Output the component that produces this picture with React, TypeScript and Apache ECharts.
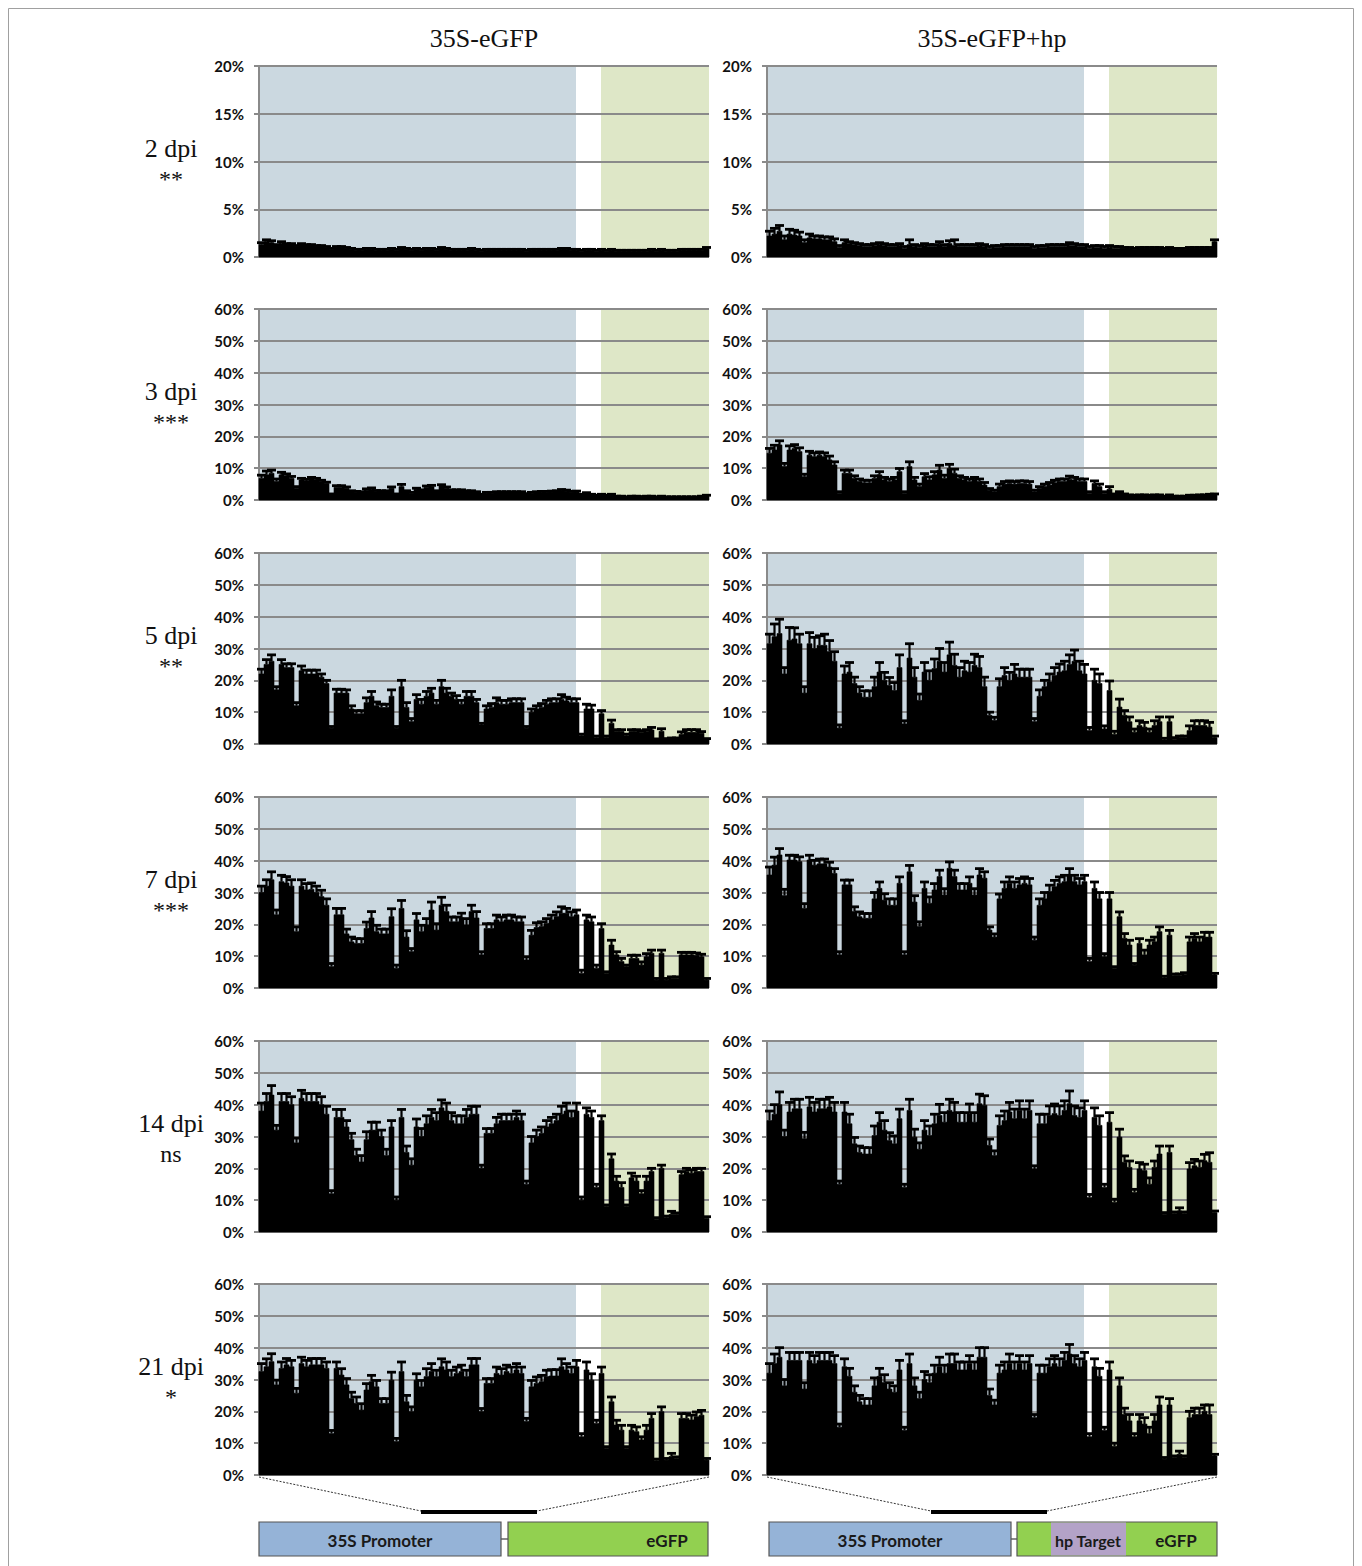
import React, { useEffect, useRef } from "react";
import * as echarts from "echarts";

// ---------- DATA ----------
const N = 90; // positions (bars) per panel
const BLUE_END = 63.4; // 35S promoter region ends (in bar units)
const GREEN_START = 68.4; // eGFP region starts (in bar units)

const COLUMN_TITLES = ["35S-eGFP", "35S-eGFP+hp"];
const ROW_LABELS = ["2 dpi", "3 dpi", "5 dpi", "7 dpi", "14 dpi", "21 dpi"];
const ROW_SIG = ["**", "***", "**", "***", "ns", "*"];
const ROW_MAX = [20, 60, 60, 60, 60, 60];
const ROW_INTERVAL = [5, 10, 10, 10, 10, 10];

const dpi2Gfp = [1.3,1.6,1.5,1.2,1.4,1.3,1.3,1.1,1.3,1.2, 1.2,1.1,1.1,1.0,0.8,1.0,1.0,0.9,0.8,0.7, 0.7,0.8,0.8,0.7,0.7,0.7,0.8,0.7,0.9,0.8, 0.7,0.8,0.7,0.8,0.8,0.7,0.9,0.8,0.7,0.7, 0.7,0.7,0.8,0.7,0.6,0.7,0.7,0.7,0.7,0.7, 0.7,0.7,0.7,0.6,0.7,0.7,0.7,0.7,0.7,0.7, 0.8,0.8,0.7,0.7,0.6,0.7,0.7,0.6,0.7,0.6, 0.7,0.6,0.6,0.6,0.6,0.6,0.6,0.6,0.7,0.6, 0.7,0.6,0.6,0.6,0.7,0.7,0.7,0.7,0.7,0.9];
const dpi2GfpErr = [0.2,0.2,0.2,0.1,0.2,0.1,0.1,0.1,0.1,0.1, 0.1,0.1,0.1,0.1,0.1,0.1,0.1,0.1,0.1,0.1, 0.1,0.1,0.1,0.1,0.1,0.1,0.1,0.1,0.1,0.1, 0.1,0.1,0.1,0.1,0.1,0.1,0.1,0.1,0.1,0.1, 0.1,0.1,0.1,0.1,0.1,0.1,0.1,0.1,0.1,0.1, 0.1,0.1,0.1,0.1,0.1,0.1,0.1,0.1,0.1,0.1, 0.1,0.1,0.1,0.1,0.1,0.1,0.1,0.1,0.1,0.1, 0.1,0.1,0.1,0.1,0.1,0.1,0.1,0.1,0.1,0.1, 0.1,0.1,0.1,0.1,0.1,0.1,0.1,0.1,0.1,0.1];
const dpi2Hp = [2.2,2.4,2.7,1.8,2.4,2.3,2.2,1.5,2.0,1.9, 1.9,1.8,1.8,1.6,1.0,1.5,1.4,1.3,1.2,1.1, 1.1,1.2,1.3,1.2,1.1,1.1,1.2,0.9,1.3,1.1, 1.0,1.2,1.1,1.1,1.3,1.1,1.4,1.2,1.1,1.1, 1.1,1.1,1.2,1.1,0.9,1.0,1.0,1.1,1.1,1.1, 1.1,1.1,1.1,0.9,1.0,1.0,1.1,1.1,1.1,1.1, 1.2,1.2,1.1,1.1,0.9,1.0,1.0,0.9,1.0,0.9, 0.9,0.9,0.9,0.8,0.9,0.9,0.9,0.9,0.9,0.8, 0.9,0.8,0.8,0.8,0.9,0.9,0.9,0.9,0.9,1.6];
const dpi2HpErr = [0.5,0.6,0.6,0.4,0.5,0.5,0.4,0.3,0.4,0.3, 0.3,0.3,0.3,0.3,0.2,0.3,0.2,0.2,0.2,0.2, 0.2,0.2,0.2,0.2,0.2,0.2,0.2,0.2,0.5,0.2, 0.2,0.2,0.2,0.2,0.3,0.2,0.3,0.6,0.2,0.2, 0.2,0.2,0.2,0.2,0.2,0.2,0.2,0.2,0.2,0.2, 0.2,0.2,0.2,0.2,0.2,0.2,0.2,0.2,0.2,0.2, 0.3,0.2,0.2,0.2,0.2,0.2,0.2,0.2,0.2,0.2, 0.2,0.1,0.1,0.1,0.1,0.1,0.1,0.1,0.1,0.1, 0.1,0.1,0.1,0.1,0.1,0.1,0.1,0.1,0.1,0.2];

const dpi3Gfp = [6.8,7.9,8.4,5.8,7.9,7.6,6.8,3.7,6.3,6, 6.6,6.3,5.8,5.2,1.6,4,4,3.7,2.6,2.4, 2.3,3.1,3.4,2.7,2.6,2.6,3.7,1.6,4.2,2.6, 2.1,3.4,2.9,4,4.2,2.6,4.4,3.7,2.9,2.9, 2.9,2.6,2.6,2.3,1.6,2.1,2.1,2.3,2.3,2.3, 2.3,2.3,2.3,1.8,2.1,2.3,2.4,2.4,2.5,2.6, 2.9,2.8,2.4,2.5,1.6,2,1.6,1.3,1.6,1.3, 1.6,1,1,0.8,1,1,0.9,1,1,0.8, 1,0.8,0.8,0.8,0.8,0.8,0.8,0.8,1,1.3];
const dpi3GfpErr = [1,1.2,1,0.8,0.8,0.6,0.6,0.5,0.5,0.5, 0.5,0.5,0.4,0.4,0.3,0.5,0.5,0.4,0.3,0.3, 0.3,0.4,0.4,0.3,0.3,0.3,0.4,0.3,0.7,0.3, 0.3,0.3,0.3,0.4,0.4,0.3,0.4,0.4,0.3,0.3, 0.3,0.3,0.3,0.3,0.2,0.3,0.3,0.3,0.3,0.3, 0.3,0.3,0.3,0.2,0.3,0.3,0.3,0.3,0.3,0.3, 0.4,0.3,0.3,0.3,0.2,0.3,0.2,0.2,0.2,0.2, 0.2,0.2,0.2,0.2,0.2,0.2,0.2,0.2,0.2,0.2, 0.2,0.2,0.2,0.2,0.2,0.2,0.2,0.2,0.2,0.2];
const dpi3Hp = [14.7,15.7,17.3,10.5,15.7,16.2,15.2,7.3,14.1,13.6, 14.1,13.6,12.6,11,2.1,8.4,8.4,6.8,5.8,5.4, 5.4,6.8,7.9,6.3,5.8,6.3,8.9,2.1,10.5,6.3, 4.2,7.3,6.3,7.9,9.4,6.8,9.9,8.4,6.8,6.3, 5.8,6.3,5.8,4.7,3.1,2.6,4.2,5,5.2,5, 5.2,5.2,5,2.6,3.7,4.2,4.7,5.4,5.8,5.8, 6.5,6.3,5.8,5.8,2.1,5.2,4.2,2.1,3.4,1.6, 2.3,1.6,1.4,1.3,1.4,1.4,1.3,1.4,1.4,1, 1.4,1,1,1,1.3,1.3,1.4,1.4,1.6,1.6];
const dpi3HpErr = [1.5,1.5,1.3,1,1.3,1.2,1.2,0.8,1.2,1.2, 1,1.2,1.2,1,0.5,1,1,0.8,0.8,0.8, 0.8,0.8,1,0.8,0.8,0.8,1,0.5,1.5,0.8, 0.8,1,1,1,1.5,1,1.3,1.3,0.8,0.8, 0.8,0.8,0.8,0.8,0.5,0.5,0.8,0.8,0.8,0.8, 0.8,0.8,0.8,0.5,0.5,0.8,0.8,0.8,0.8,0.8, 1,0.8,0.8,0.8,0.5,0.8,0.8,0.5,0.8,0.3, 0.3,0.3,0.2,0.2,0.2,0.2,0.2,0.2,0.2,0.2, 0.2,0.2,0.2,0.2,0.2,0.2,0.2,0.2,0.2,0.3];

const dpi5Gfp = [22,25,26,17,25,24,24,12,23,22, 22,22,21,19,5,16,16,16,11,9.5, 9.5,13,15,12,11.5,11.5,15,5,18,11.5, 7,14,12.5,15,16,12.5,18,16,15,14, 12.5,15,15,13,6,11,11.5,13,12.5,12.5, 13,13,13,5,10,11,11.5,12.5,13,13, 14,13.5,13,13,2.6,11,11,2,9.5,2, 6.5,4,4,2.6,4,4,3.7,4,4.4,1.3, 4,1.4,1.6,1.6,3,3.7,3.7,3.7,3.4,1.4];
const dpi5GfpErr = [1.5,1.5,2,1,1.5,1.2,1.2,1,1.5,1.2, 1.2,1.2,1,1,0.5,1.2,1.2,1,1,1, 1,1.5,1.5,1.2,1,1,2,0.5,2,1.5, 1,1.5,1.5,1.5,1.5,1.2,2,1.5,1,1.2, 1.2,1.5,1.5,1,0.5,1,1.2,1.5,1.2,1.2, 1.2,1.2,1.2,0.5,1,1,1.2,1.2,1.2,1.2, 1.5,1.2,1.2,1.2,0.5,1.5,1.2,0.5,1,0.5, 1,0.5,0.5,0.5,0.5,0.5,0.5,0.5,0.8,0.3, 0.8,0.3,0.3,0.3,0.8,0.8,0.8,0.8,0.5,0.3];
const dpi5Hp = [31.5,33.7,34.7,22,32.6,33,31.5,16,31.5,30, 31,31,29,26,5,22,22.6,19,16,14.7, 14.7,18,22.6,20,18.4,16.8,24,6.3,27,21, 13.7,22.6,20,23.7,26,22.6,28,24.7,21,23, 22.6,24.7,24,18,9,7.4,18,21.5,20,22, 21,21,21,7,15,18,19.5,21.5,22.6,23, 25,26,23,22,4.2,20,19,4.7,16.8,3, 11.6,9,7,3.7,5.8,5.3,3.7,5.8,7,1.3, 7,1.5,2,2,4.2,5.8,5.8,5.8,5.3,2];
const dpi5HpErr = [3,4,4.5,2,4,3.5,3,2,3.5,3.5, 3,3.5,3.5,3,1,2.5,3,2,2,2, 2,3,3,2.5,2.5,2.5,4,1,4.5,3, 2,3,3,3,4,3,4,3.5,3,3, 3,3.5,3.5,3,1,1,2.5,2.5,2.5,3, 2.5,2.5,2.5,1,2,2,2.5,2.5,2.5,3, 3,3.5,3,3,1,3.5,3,1,3,1, 2.5,1.5,1.5,1,1.5,1.5,1,1.5,1.5,0.5, 1.5,0.5,0.5,0.5,1.5,1.5,1.5,1.5,1.5,0.5];

const dpi7Gfp = [30,32,34,23,33.4,33,32,17.7,32,30.8, 31,30,28.7,26,6.7,23,23,17,14.5,14, 14,18.7,22,17.7,17,17,22.4,6.2,25,16, 11.4,21.4,17.7,19.8,24.5,18.2,26,24,20.8,20.8, 22,19.8,24,22,10.4,18.7,18.7,21.4,20.8,21.4, 21.4,20.8,20.8,8.8,16.6,19,19.3,20.3,21.4,22.4, 23.5,23.5,22.4,23,4.6,21.4,20.8,6.2,18.7,4.6, 13.5,10.4,8.3,6.7,9.3,9.3,7.2,9.8,10.9,2.5, 10.9,2.5,3,3,10.4,10.4,10.4,10.2,9.8,2.5];
const dpi7GfpErr = [2,2,2.5,1.5,2,2,2,1.5,2,2, 2,2,2,2,1,2,2,1.5,1.5,1.5, 1.5,2,2,2,1.5,1.5,2.5,1,2.5,2, 1,2,2,2,2.5,2,2.5,2,1.5,1.5, 1.5,2,2,2,1,1.5,1.5,1.5,1.5,1.5, 1.5,1.5,1.5,1,1.5,1.5,1.5,1.5,1.5,1.5, 2,1.5,1.5,1.5,1,1.5,1.5,1,1.5,0.5, 1.5,1,1,0.5,1,1,1,1,1,0.5, 1,0.5,0.5,0.5,0.8,0.8,0.8,0.8,0.8,0.5];
const dpi7Hp = [35.5,38.6,41.8,29,40.2,40.2,39.7,25,40.2,38.6, 39,39,38,36,10.4,32.4,32.4,24,22.4,21.9, 21.9,28,31.3,27.6,26,26,32.9,10.4,36.5,27, 19.3,31.3,26.6,30.8,35,29.2,37.6,35,30.8,30.8, 32.9,29.2,35.5,34.5,18.2,16,28,31.3,32.9,31.3, 32.4,32.9,32.4,15,26,28,30.3,31.8,32.9,33.4, 35.5,33.4,32.4,33.4,8.3,31.3,28,9.8,28,6.2, 22.4,15.6,13.5,7.2,14,10.4,13.5,14.5,17.7,3.2, 16.6,3.9,3.9,4.3,14.5,15.6,14.5,16,16,4.1];
const dpi7HpErr = [2.5,2.5,2,2,1.5,1.5,1.5,1.5,1.5,1.5, 1.5,1.5,1.5,1.5,1,1.5,1.5,1.5,1.5,1.5, 1.5,2,2,2,2,2,2,1,2,2, 1.5,2,2,2,2,2,2,2,2,2, 2,2,2,2,1,1,1.5,2,2,2, 2,2,2,1,2,2,2,2,2,2, 2,2,2,2,1,2,2,1,2,0.5, 1.5,1.5,1.5,0.5,1.5,1.5,1.5,1.5,1.5,0.5, 1.5,0.5,0.5,0.5,1.5,1.5,1.5,1.5,1.5,0.5];

const dpi14Gfp = [38,41,43,32,41,41,40,28,42,41, 41,41,40,37,12,36,36,33,29,24, 22,29,32,32,30,24,33,10,36,25, 21,33,30,34,36,35,39,38,35,34, 34,36,37,37,20,31,31,34,35,35, 35,36,35,15,28,30,31,33,34,35, 37,38,36,38,10,37,36,14,35,8, 23,16,14,8,17,16,12,16,19,4, 20,4.5,5.5,5.5,18,19,18.5,19,19,4.3];
const dpi14GfpErr = [2.5,2.5,3,1.5,2.5,2.5,2.5,1.5,2.5,2.5, 2.5,2.5,2.5,2.5,1,2.5,2.5,2,2,2, 2,2.5,2.5,2.5,2,2,2,1,2.5,2, 2,2.5,2.5,2.5,2.5,2.5,2.5,2.5,2.5,2.5, 2.5,2.5,2.5,2.5,1,1.5,1.5,2,2,2, 2,2,2,1,2,2,2,2,2,2, 2.5,2.5,2,2.5,1,2,2,1,1.5,0.5, 1.5,1.5,1.5,0.5,1.5,1.5,1,1.5,1,0.5, 1,0.5,1,0.5,1,1,1,1,1,0.5];
const dpi14Hp = [35,37,40,30,37.7,38.7,38.7,29.3,39.3,37.7, 38.7,38.7,39.3,37.7,15,37.7,34,27.7,25,24.5, 24.5,30.3,34.5,32,28.7,27.7,35.6,14,38.2,29.8, 26,32,30.3,34,36.6,34.5,38.2,37.7,34.5,34.5, 37.2,34.5,40.3,39.8,27.2,24,33.5,35,37.7,35.6, 38.2,35.6,38.2,19.8,34,34,36.6,37.2,36.6,38.2, 40.3,36.6,36,38.2,10.8,36,33.5,14,34.5,9.3, 29.8,21.9,20.3,12.4,19.8,19.3,15,20.3,24.5,5.6, 25,5.8,6.6,5.8,19.8,20.8,20.3,22.4,21.9,6.1];
const dpi14HpErr = [3,3,4,2,3,3,3,2,3,3, 3,3,3,3,1,3,3,2,2,2, 2,3,3,3,2.5,2.5,3,1,3.5,2.5, 2,3,3,3,3.5,3,3.5,3,3,3, 3,3,3,3,2,1.5,3,3,3,3, 3,3,3,1,3,3,3,3,3,3, 4,3,3,3,1,3,3,1,3,1, 2.5,2,2,1,2,2,2,2,2.5,0.5, 2,0.5,1,0.5,2,2,2,2,3,0.5];

const dpi21Gfp = [32.5,34,35.6,28.3,33.5,34.6,34,25.7,35,34, 34.6,34.6,34.6,33.5,13,33.5,31.4,28.3,24,22.5, 20.4,26.7,29.3,27.7,22.5,22.5,29.8,10.5,32.5,23, 19.9,29.8,27.7,30.9,32.5,30.9,34,33,30.9,31.9, 32.5,30.9,34.6,34.6,19.9,28.8,28.8,31.9,31.4,32.5, 31.9,33,31.9,16.8,27.7,28.8,29.3,30.9,31.1,31.1, 34,33,31.9,34,12,33,29.8,16.2,31.9,8.4, 23,15.7,14.1,8.4,14.1,13.6,11,14.1,17.8,4.5, 19.9,4.7,5.8,5.2,17.8,17.8,17.3,18.3,18.8,4.7];
const dpi21GfpErr = [2.5,2.5,2.5,1.5,2,2,2,1.5,2,2, 2,2,2,2,1,2,2,2,2,2, 2,2,2,2,1.5,1.5,2.5,1,3,2, 1.5,2,2,2.5,2.5,2,2.5,2.5,2,2, 2,2,2,2,1,1.5,1.5,2,2,2, 2,2,2,1,2,2,2,2,2,2, 2.5,2,2,2,1,2.5,2,1,2,0.5, 1.5,1.5,1.5,0.5,1.5,1.5,1,1.5,1.5,0.5, 1.5,0.5,1,0.5,1.5,1.5,1.5,1.5,1.5,0.5];
const dpi21Hp = [32,35,37,28,36,36,36,27,36,35, 36,36,36,35,15,34,31,26,23,22, 22,28,31,29,27,26,33,14,35,28, 24,30,29,32,34,32,35,35,33,33, 35,33,37,37,25,22,32,33,35,33, 35,33,35,18,32,32,34,35,34,36, 38,35,34,36,12,34,31,14,33,9, 28,19,17,12,17,16,13,17,22,5, 22,5.5,6.5,5.5,18,19,19,20,19,6];
const dpi21HpErr = [3,3,3,2,2.5,2.5,2.5,2,2.5,2.5, 2.5,2.5,2.5,2.5,1,2.5,2.5,2,2,2, 2,2.5,2.5,2.5,2,2,3,1,3,2.5, 2,2.5,2.5,2.5,3,2.5,3,3,2.5,2.5, 2.5,2.5,3,3,2,1.5,2.5,2.5,3,2.5, 2.5,2.5,2.5,1,2.5,2.5,2.5,2.5,2.5,2.5, 3,2.5,2.5,2.5,1,2.5,2.5,1,2.5,1, 2.5,2,2,1,2,2,2,2,2.5,0.5, 2,0.5,1,0.5,2,2,2,2,3,0.5];

// rows x columns: [values, errors]
const PANELS = [
  [[dpi2Gfp, dpi2GfpErr], [dpi2Hp, dpi2HpErr]],
  [[dpi3Gfp, dpi3GfpErr], [dpi3Hp, dpi3HpErr]],
  [[dpi5Gfp, dpi5GfpErr], [dpi5Hp, dpi5HpErr]],
  [[dpi7Gfp, dpi7GfpErr], [dpi7Hp, dpi7HpErr]],
  [[dpi14Gfp, dpi14GfpErr], [dpi14Hp, dpi14HpErr]],
  [[dpi21Gfp, dpi21GfpErr], [dpi21Hp, dpi21HpErr]],
];

// ---------- LAYOUT / STYLE ----------
const GRID_LEFT = [251, 759];
const GRID_W = 450;
const GRID_TOP = [58, 301, 545, 789, 1033, 1276];
const GRID_H = 191;
const BLUE_BG = "#cbd8e0";
const GREEN_BG = "#dee7c7";
const GRID_GRAY = "#8a8a8a";
const SERIF = '"Liberation Serif", "DejaVu Serif", serif';
const SANS = 'Lato, "Open Sans", sans-serif';

export default function App() {
  const ref = useRef<HTMLDivElement>(null);

  useEffect(() => {
    if (!ref.current) return;
    const chart = echarts.init(ref.current, undefined, { renderer: "svg" });

    const grids: any[] = [];
    const xAxes: any[] = [];
    const yAxes: any[] = [];
    const series: any[] = [];

    PANELS.forEach((row, r) => {
      row.forEach(([vals, errs], c) => {
        const g = grids.length;
        grids.push({ left: GRID_LEFT[c], top: GRID_TOP[r], width: GRID_W, height: GRID_H, containLabel: false });
        xAxes.push({ gridIndex: g, type: "value", min: 0, max: N, show: false });
        yAxes.push({
          gridIndex: g,
          type: "value",
          min: 0,
          max: ROW_MAX[r],
          interval: ROW_INTERVAL[r],
          z: 1,
          axisLine: { show: true, lineStyle: { color: GRID_GRAY, width: 2 } },
          axisTick: { show: true, length: 5, lineStyle: { color: GRID_GRAY, width: 2 } },
          splitLine: { show: true, lineStyle: { color: GRID_GRAY, width: 2.2 } },
          axisLabel: {
            formatter: "{value}%",
            margin: 15,
            fontSize: 15,
            fontWeight: "bold",
            fontFamily: SANS,
            color: "#111",
          },
        });
        // background regions
        series.push({
          type: "custom",
          xAxisIndex: g,
          yAxisIndex: g,
          z: 0,
          silent: true,
          clip: true,
          data: [
            [0, BLUE_END, ROW_MAX[r], 0],
            [GREEN_START, N, ROW_MAX[r], 1],
          ],
          renderItem: (params: any, api: any) => {
            const a = api.coord([api.value(0), api.value(2)]);
            const b = api.coord([api.value(1), 0]);
            return {
              type: "rect",
              shape: { x: a[0], y: a[1], width: b[0] - a[0], height: b[1] - a[1] },
              style: { fill: api.value(3) === 0 ? BLUE_BG : GREEN_BG },
            };
          },
        });
        // bars with error bars
        series.push({
          type: "custom",
          xAxisIndex: g,
          yAxisIndex: g,
          z: 2,
          silent: true,
          clip: false,
          data: (vals as number[]).map((v, i) => [i, v, (errs as number[])[i]]),
          renderItem: (params: any, api: any) => {
            const i = api.value(0);
            const v = api.value(1);
            const e = api.value(2);
            const p0 = api.coord([i, 0]);
            const p1 = api.coord([i + 1, v]);
            const pe = api.coord([i + 0.5, v + e]);
            const cx = pe[0];
            return {
              type: "group",
              children: [
                {
                  type: "rect",
                  shape: { x: p0[0], y: p1[1], width: p1[0] - p0[0], height: p0[1] - p1[1] },
                  style: { fill: "#000", stroke: "#000", lineWidth: 0.6 },
                },
                {
                  type: "line",
                  shape: { x1: cx, y1: p1[1], x2: cx, y2: pe[1] },
                  style: { stroke: "#000", lineWidth: 2.2 },
                },
                {
                  type: "line",
                  shape: { x1: cx - 4.5, y1: pe[1], x2: cx + 4.5, y2: pe[1] },
                  style: { stroke: "#000", lineWidth: 2.8 },
                },
              ],
            };
          },
        });
      });
    });

    const graphics: any[] = [];
    // frame
    graphics.push({
      type: "rect",
      shape: { x: 0.5, y: 0.5, width: 1345, height: 1640 },
      style: { fill: "none", stroke: "#a0a0a0", lineWidth: 1 },
      silent: true,
    });
    // column titles
    COLUMN_TITLES.forEach((t, c) => {
      graphics.push({
        type: "text",
        x: GRID_LEFT[c] + GRID_W / 2,
        y: 30,
        style: { text: t, fontSize: 26, fontFamily: SERIF, fill: "#111", align: "center", verticalAlign: "middle" },
      });
    });
    // row labels
    ROW_LABELS.forEach((t, r) => {
      graphics.push({
        type: "text",
        x: 163,
        y: GRID_TOP[r] + 82,
        style: { text: t, fontSize: 26, fontFamily: SERIF, fill: "#111", align: "center", verticalAlign: "middle" },
      });
      graphics.push({
        type: "text",
        x: 163,
        y: GRID_TOP[r] + 113,
        style: { text: ROW_SIG[r], fontSize: 24, fontFamily: SERIF, fill: "#111", align: "center", verticalAlign: "middle" },
      });
    });

    // construct diagrams under each column
    const axisBottom = GRID_TOP[5] + GRID_H;
    [0, 1].forEach((c) => {
      const L = GRID_LEFT[c];
      const barL = c === 0 ? 413 : 923;
      const barR = c === 0 ? 529 : 1039;
      graphics.push({
        type: "line",
        shape: { x1: L, y1: axisBottom + 2, x2: barL, y2: 1503 },
        style: { stroke: "#333", lineWidth: 1, lineDash: [2, 1.5] },
      });
      graphics.push({
        type: "line",
        shape: { x1: L + GRID_W, y1: axisBottom + 2, x2: barR, y2: 1503 },
        style: { stroke: "#333", lineWidth: 1, lineDash: [2, 1.5] },
      });
      graphics.push({
        type: "line",
        shape: { x1: barL, y1: 1504, x2: barR, y2: 1504 },
        style: { stroke: "#000", lineWidth: 4 },
      });
      const boxY = 1514;
      const boxH = 34;
      const blueX = c === 0 ? 251 : 761;
      const blueW = 242;
      const greenX = c === 0 ? 500 : 1009;
      const greenW = 200;
      graphics.push({
        type: "line",
        shape: { x1: blueX + blueW, y1: boxY + boxH / 2, x2: greenX, y2: boxY + boxH / 2 },
        style: { stroke: "#666", lineWidth: 1.5 },
      });
      graphics.push({
        type: "rect",
        shape: { x: blueX, y: boxY, width: blueW, height: boxH },
        style: { fill: "#95b3d7", stroke: "#555", lineWidth: 1.2 },
      });
      graphics.push({
        type: "rect",
        shape: { x: greenX, y: boxY, width: greenW, height: boxH },
        style: { fill: "#92d050", stroke: "#555", lineWidth: 1.2 },
      });
      if (c === 1) {
        graphics.push({
          type: "rect",
          shape: { x: 1043, y: boxY + 0.6, width: 75, height: boxH - 1.2 },
          style: { fill: "#b3a2c7" },
        });
        graphics.push({
          type: "text",
          x: 1080,
          y: boxY + boxH / 2 + 1,
          style: { text: "hp Target", fontSize: 16, fontWeight: "bold", fontFamily: SANS, fill: "#1a1a1a", align: "center", verticalAlign: "middle" },
        });
      }
      graphics.push({
        type: "text",
        x: blueX + blueW / 2,
        y: boxY + boxH / 2 + 1,
        style: { text: "35S Promoter", fontSize: 17, fontWeight: "bold", fontFamily: SANS, fill: "#1a1a1a", align: "center", verticalAlign: "middle" },
      });
      graphics.push({
        type: "text",
        x: greenX + greenW - 41,
        y: boxY + boxH / 2 + 1,
        style: { text: "eGFP", fontSize: 17, fontWeight: "bold", fontFamily: SANS, fill: "#1a1a1a", align: "center", verticalAlign: "middle" },
      });
    });

    chart.setOption({
      animation: false,
      backgroundColor: "#ffffff",
      grid: grids,
      xAxis: xAxes,
      yAxis: yAxes,
      series,
      graphic: { elements: graphics },
    });

    return () => chart.dispose();
  }, []);

  return <div ref={ref} style={{ width: 1346, height: 1558 }} />;
}
